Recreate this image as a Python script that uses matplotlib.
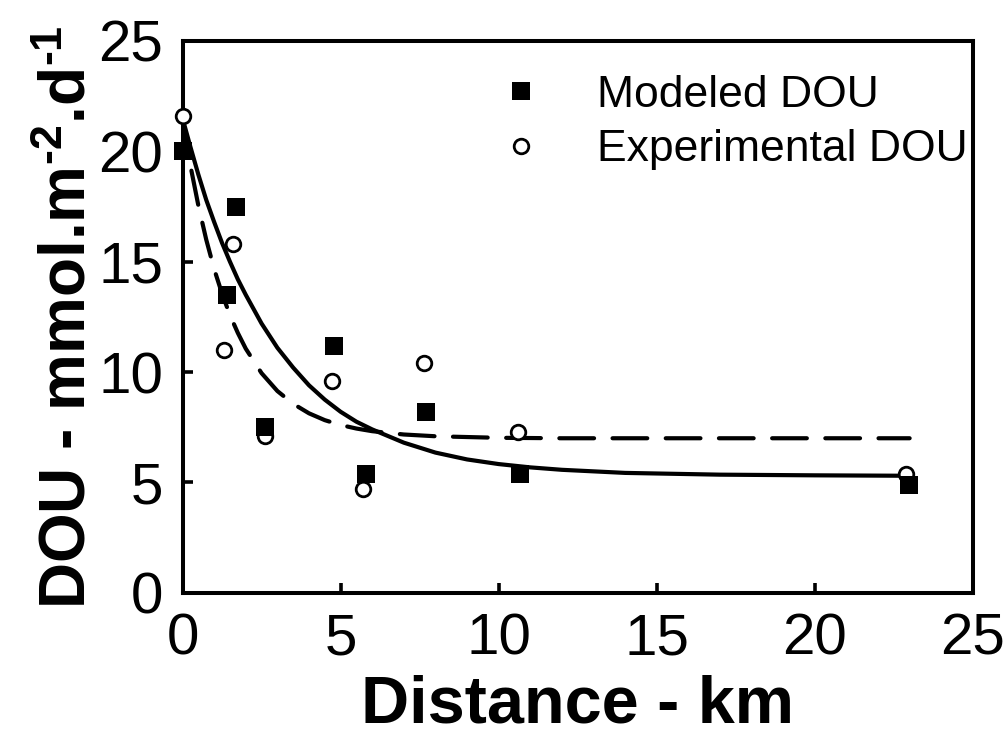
import matplotlib
matplotlib.use("Agg")
import matplotlib.pyplot as plt

plt.rcParams['font.family'] = ['Liberation Sans', 'DejaVu Sans']
plt.rcParams['lines.scale_dashes'] = False
plt.rcParams['mathtext.fontset'] = 'custom'
plt.rcParams['mathtext.rm'] = 'Liberation Sans:bold'
plt.rcParams['mathtext.bf'] = 'Liberation Sans:bold'
plt.rcParams['mathtext.default'] = 'bf'

# Observations
modeled_x = [0.0, 1.69, 1.40, 2.6, 4.79, 5.8, 7.7, 10.67, 22.97]
modeled_y = [20.0, 17.5, 13.5, 7.5, 11.2, 5.4, 8.2, 5.4, 4.9]
exp_x = [0.0, 1.6, 1.3, 2.6, 4.73, 5.7, 7.64, 10.6, 22.9]
exp_y = [21.6, 15.8, 11.0, 7.1, 9.6, 4.7, 10.4, 7.3, 5.4]

# Fitted curves
solid_x = [0, 0.25, 0.5, 0.75, 1, 1.25, 1.5, 1.75, 2, 2.5, 3, 3.5, 4, 4.5, 5, 5.5, 6, 7, 8, 9, 10, 11, 12, 14, 17, 20, 23]
solid_y = [21.5, 20.2, 18.95, 17.8, 16.8, 15.85, 15.0, 14.2, 13.5, 12.2, 11.1, 10.2, 9.4, 8.75, 8.2, 7.75, 7.4, 6.8, 6.35, 6.04, 5.83, 5.68, 5.57, 5.43, 5.35, 5.32, 5.3]
dash_x = [0, 0.25, 0.5, 0.75, 1, 1.25, 1.5, 1.75, 2, 2.5, 3, 3.5, 4, 4.5, 5, 5.5, 6, 7, 8, 10, 12, 23]
dash_y = [21.5, 19.35, 17.55, 16.0, 14.67, 13.55, 12.58, 11.77, 11.06, 9.95, 9.14, 8.56, 8.13, 7.82, 7.60, 7.44, 7.32, 7.17, 7.09, 7.02, 7.0, 7.0]

xticks = [0, 5, 10, 15, 20, 25]
yticks = [0, 5, 10, 15, 20, 25]

fig = plt.figure(figsize=(10.04, 7.40), dpi=100)
ax = fig.add_axes([0.1818, 0.199, 0.7872, 0.7456])

ax.plot(solid_x, solid_y, color='black', lw=3.0, solid_capstyle='round',
        solid_joinstyle='round', zorder=3)
ln, = ax.plot(dash_x, dash_y, color='black', lw=3.0, zorder=3)
ln.set_dashes((25, 13.3))
ln.set_dash_capstyle('round')

ax.plot(exp_x, exp_y, linestyle='none', marker='o', ms=10.5, mfc='white', mec='black',
        mew=2.0, label='Experimental DOU', zorder=4, clip_on=False)
ax.plot(modeled_x, modeled_y, linestyle='none', marker='s', ms=12.5, mfc='black', mec='black',
        mew=0, label='Modeled DOU', zorder=5, clip_on=False)

ax.set_xlim(0, 25)
ax.set_ylim(0, 25)
ax.set_xticks(xticks)
ax.set_yticks(yticks)
ax.tick_params(direction='in', length=7, width=2.6, labelsize=42, pad=14)
for s in ax.spines.values():
    s.set_linewidth(2.9)

ax.set_xlabel('Distance - km', fontsize=48, fontweight='bold', labelpad=6)
ax.set_ylabel(r'DOU - mmol.m$^{\text{-2}}$.d$^{\text{-1}}$', fontsize=46,
              fontweight='bold', labelpad=0)

handles, labels = ax.get_legend_handles_labels()
leg = ax.legend(handles[::-1], labels[::-1], loc='upper left', bbox_to_anchor=(0.372, 0.995),
                frameon=False, fontsize=32, handlelength=0.6, handletextpad=1.4,
                labelspacing=0.3, borderaxespad=0.3)

fig.savefig('out.png', dpi=100)
